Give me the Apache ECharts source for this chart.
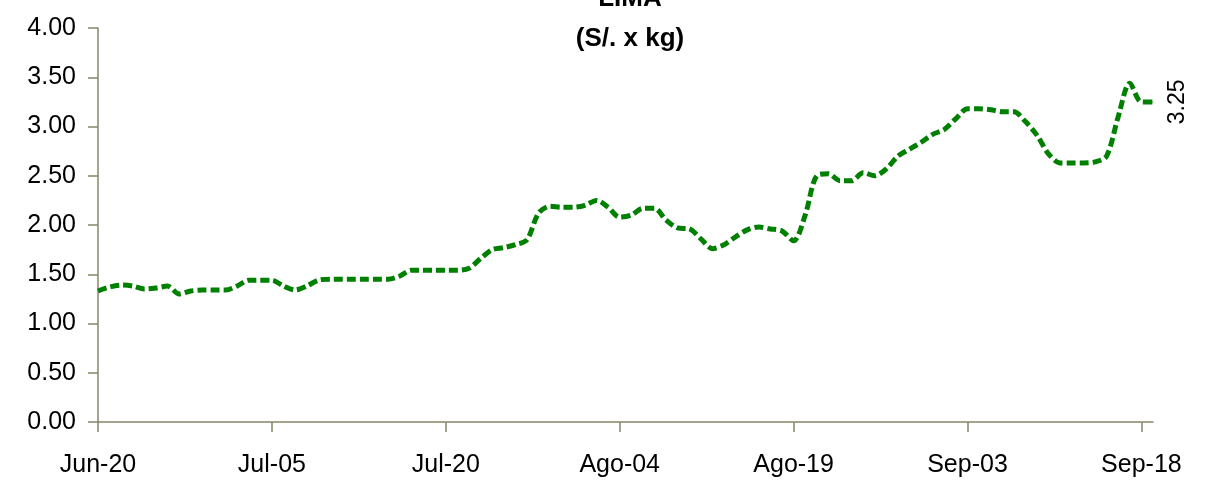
<!DOCTYPE html>
<html>
<head>
<meta charset="utf-8">
<script src="https://cdn.jsdelivr.net/npm/echarts@6/dist/echarts.min.js"></script>
<style>html,body{margin:0;padding:0;background:#fff}#c{width:1222px;height:486px}</style>
</head>
<body>
<div id="c"></div>
<script>
// Daily dates from Jun-20 to Sep-19
const monthNames = ['Ene','Feb','Mar','Abr','May','Jun','Jul','Ago','Sep','Oct','Nov','Dic'];
const startMonth = 5, startDay = 20, dayCount = 92;
const titleLines = ['LIMA', '(S/. x kg)'];
const yTicks = [0, 0.5, 1, 1.5, 2, 2.5, 3, 3.5, 4];
// Price (S/. x kg), one value per day
const prices = [
  1.33, 1.37, 1.39, 1.38, 1.35, 1.36, 1.38, 1.30, 1.33, 1.34,
  1.34, 1.34, 1.38, 1.44, 1.44, 1.44, 1.38, 1.34, 1.38, 1.44,
  1.45, 1.45, 1.45, 1.45, 1.45, 1.45, 1.48, 1.54, 1.54, 1.54,
  1.54, 1.54, 1.56, 1.66, 1.75, 1.77, 1.80, 1.85, 2.12, 2.19,
  2.18, 2.18, 2.20, 2.25, 2.18, 2.08, 2.10, 2.17, 2.17, 2.05,
  1.97, 1.96, 1.86, 1.76, 1.80, 1.88, 1.95, 1.98, 1.96, 1.94,
  1.84, 2.10, 2.50, 2.52, 2.45, 2.45, 2.53, 2.50, 2.57, 2.70,
  2.77, 2.84, 2.92, 2.97, 3.08, 3.18, 3.18, 3.17, 3.15, 3.15,
  3.05, 2.91, 2.72, 2.63, 2.63, 2.63, 2.64, 2.70, 3.10, 3.44,
  3.25, 3.25
];
const lastLabel = '3.25';

const categories = [];
{
  const d = new Date(2020, startMonth, startDay);
  for (let i = 0; i < dayCount; i++) {
    categories.push(monthNames[d.getMonth()] + '-' + String(d.getDate()).padStart(2, '0'));
    d.setDate(d.getDate() + 1);
  }
}

const font = 'Liberation Sans, Arial, sans-serif';
const seriesData = prices.map((v, i) => i === prices.length - 1 ? {
  value: v,
  symbol: 'circle', symbolSize: 1,
  label: {
    show: true, formatter: lastLabel, rotate: 90, position: 'right', distance: 24,
    align: 'center', verticalAlign: 'middle',
    fontFamily: font, fontSize: 23, color: '#000'
  }
} : {value: v, symbol: 'none'});

const axisColor = '#86866a';
const chart = echarts.init(document.getElementById('c'), null, {renderer: 'canvas'});
chart.setOption({
  animation: false,
  backgroundColor: '#fff',
  title: [
    {text: titleLines[0], left: 625, top: -19, textAlign: 'center',
     textStyle: {fontFamily: font, fontWeight: 'bold', fontSize: 26, color: '#000'}},
    {text: titleLines[1], left: 625, top: 21, textAlign: 'center',
     textStyle: {fontFamily: font, fontWeight: 'bold', fontSize: 26, color: '#000'}}
  ],
  grid: {left: 98, right: 69, top: 28, bottom: 64, containLabel: false},
  xAxis: {
    type: 'category', data: categories, boundaryGap: false,
    axisLine: {lineStyle: {color: axisColor, width: 1.5}},
    axisTick: {show: true, interval: 14, length: 10, inside: false, lineStyle: {color: axisColor, width: 1.5}},
    axisLabel: {interval: 14, margin: 31, fontFamily: font, fontSize: 25, color: '#000'},
    splitLine: {show: false}
  },
  yAxis: {
    type: 'value', min: yTicks[0], max: yTicks[yTicks.length - 1], interval: 0.5,
    axisLine: {show: true, lineStyle: {color: axisColor, width: 1.5}},
    axisTick: {show: true, length: 10, lineStyle: {color: axisColor, width: 1.5}},
    axisLabel: {margin: 22, fontFamily: font, fontSize: 25, color: '#000', formatter: v => v.toFixed(2)},
    splitLine: {show: false}
  },
  series: [{
    type: 'line', data: seriesData, smooth: 0.3, symbol: 'none', showSymbol: true,
    lineStyle: {color: '#008000', width: 5, type: [9, 4], cap: 'butt'},
    itemStyle: {color: '#008000'}
  }]
});
</script>
</body>
</html>
